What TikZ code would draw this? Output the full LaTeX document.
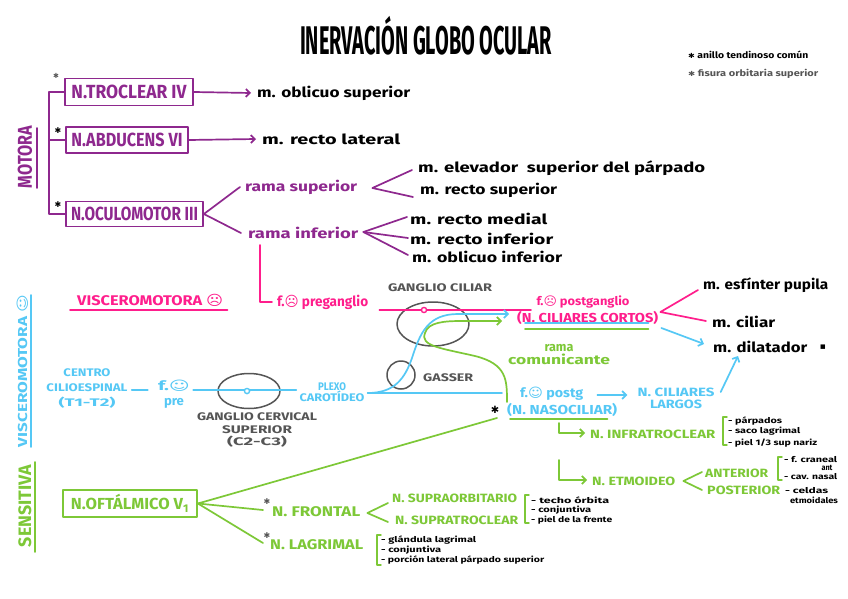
\documentclass[tikz,border=0pt]{standalone}
\usepackage{fontspec}
\setmainfont{Fira Sans}
\newfontfamily\symfont{DejaVu Sans}
\usetikzlibrary{arrows.meta,shapes.geometric}
\definecolor{cpur}{RGB}{142,40,142}
\definecolor{cpink}{RGB}{255,30,140}
\definecolor{ccyan}{RGB}{85,200,245}
\definecolor{cgreen}{RGB}{125,200,55}
\definecolor{cgray}{RGB}{85,85,85}
\newcommand\fw[2]{\resizebox{#1pt}{\height}{#2}}
\newcommand\T[3]{\fontsize{#1}{#1}\selectfont\resizebox{#2pt}{\height}{#3}}
\newcommand\sadf{{\symfont ☹}}
\newcommand\hapf{{\symfont ☺}}
\newcommand\astk[1]{{\symfont\fontsize{#1}{#1}\selectfont ✱}}
\begin{document}
\begin{tikzpicture}[x=1pt,y=-1pt,line cap=round,line join=round,
  every node/.style={inner sep=0pt,font=\bfseries}]
\tikzset{
  P/.style={draw=cpur,line width=1.7pt},
  K/.style={draw=cpink,line width=1.7pt},
  C/.style={draw=ccyan,line width=1.7pt},
  G/.style={draw=cgreen,line width=1.7pt},
  Y/.style={draw=cgray,line width=1.5pt},
  arr/.style={-{Straight Barb[length=4pt,width=8pt]}},
  box/.style={draw,line width=1.8pt,inner sep=0pt},
  tl/.style={anchor=west},
}
\fill[white] (0,0) rectangle (848,599);
\useasboundingbox (0,0) rectangle (848,599);

% title and legend
\node[anchor=base] (title) at (426,55) {\T{40}{252}{INERVACIÓN GLOBO OCULAR}};
\node[tl] (leg1) at (688,55) {\T{9}{120}{\astk{7} anillo tendinoso común}};
\node[tl,text=cgray] (leg2) at (688,74) {\T{9}{130}{\astk{7} fisura orbitaria superior}};

% side labels
\node[rotate=90,text=cpur] (mot) at (25,157) {\T{20}{62}{MOTORA}};
\draw[P] (37,128) -- (37,188);
\node[rotate=90,text=ccyan] (vmc) at (22.5,371) {\T{13}{152}{VISCEROMOTORA \hapf}};
\draw[C] (31,295) -- (31,447);
\node[rotate=90,text=cgreen] (sen) at (25,506) {\T{18}{82}{SENSITIVA}};
\draw[G] (35,462) -- (35,552);

% motor boxes
\node[box,draw=cpur,text=cpur,minimum width=128pt,minimum height=27pt] (troc) at (129,92) {\T{19}{115}{N.TROCLEAR IV}};
\node[box,draw=cpur,text=cpur,minimum width=122pt,minimum height=26pt] (abd) at (127,140) {\T{19}{111}{N.ABDUCENS VI}};
\node[box,draw=cpur,text=cpur,minimum width=137pt,minimum height=25pt] (ocu) at (134.5,214) {\T{19}{127}{N.OCULOMOTOR III}};
\node (a1) at (56,76) {\textcolor{cgray}{\astk{7}}};
\node (a2) at (58,131) {\astk{8}};
\node (a3) at (58,205) {\astk{8}};
\coordinate (brx) at (49,0);
\draw[P] (troc.west) -- (troc.west -| brx) -- (ocu.west -| brx) -- (ocu.west);
\draw[P] (abd.west -| brx) -- (abd.west);

% motor targets
\node[tl] (obl) at (257,93) {\T{14}{153}{m. oblicuo superior}};
\node[tl] (rlat) at (262,139) {\T{14}{138}{m. recto lateral}};
\node[tl,text=cpur] (rs) at (245,187) {\T{14}{112}{rama superior}};
\node[tl,text=cpur] (ri) at (248,233) {\T{14}{110}{rama inferior}};
\node[tl] (m1) at (418,168) {\T{14}{287}{m. elevador \ superior del párpado}};
\node[tl] (m2) at (420,190) {\T{14}{137}{m. recto superior}};
\node[tl] (m3) at (410,219) {\T{14}{137}{m. recto medial}};
\node[tl] (m4) at (410,239) {\T{14}{143}{m. recto inferior}};
\node[tl] (m5) at (412,257) {\T{14}{150}{m. oblicuo inferior}};
\draw[P,arr] (troc.east) -- ([shift={(-6,0)}]obl.west);
\draw[P,arr] (abd.east) -- ([shift={(-6,0)}]rlat.west);
\draw[P] (ocu.east) -- ([shift={(-5,0)}]rs.west);
\draw[P] (ocu.east) -- ([shift={(-7,0)}]ri.west);
\coordinate (fs) at ([shift={(15,1)}]rs.east);
\draw[P] ([shift={(-6,2)}]m1.west) -- (fs) -- ([shift={(-7,7)}]m2.west);
\coordinate (fi) at ([shift={(5,-1)}]ri.east);
\draw[P] ([shift={(-3,-2)}]m3.west) -- (fi);
\draw[P] ([shift={(-2,-1)}]m4.west) -- (fi);
\draw[P] ([shift={(-4,-2)}]m5.west) -- (fi);

% visceromotora parasimpatica (pink)
\node[tl,text=cpink] (vm) at (77,300) {\T{14}{146}{VISCEROMOTORA \sadf}};
\draw[K] ([shift={(-7,10)}]vm.west) -- ([shift={(4,10)}]vm.east);
\node[tl,text=cpink] (preg) at (277,302) {\T{14}{91}{f.\sadf\ preganglio}};
\draw[K] ([shift={(12,6)}]ri.south west) |- ([shift={(-5,0)}]preg.west);
\node[text=cpink] (postg) at (583,302) {\T{12}{93}{f.\sadf\ postganglio}};
\node[tl,text=cpink] (cc) at (517,318) {\T{13}{141}{(N. CILIARES CORTOS)}};
\node[tl] (esf) at (703,285) {\T{14}{125}{m. esfínter pupila}};
\node[tl] (cil) at (712,322) {\T{14}{63}{m. ciliar}};
\node[tl] (dil) at (713,347) {\T{14}{94}{m. dilatador}};
\node (sq) at (823,347) {\symfont\fontsize{9}{9}\selectfont ▪};

% ganglia (gray)
\node[draw=cgray,line width=1.5pt,ellipse,minimum width=72pt,minimum height=44pt] (gcil) at (433,324) {};
\node[text=cgray] (gcill) at (440,288) {\T{11}{104}{GANGLIO CILIAR}};
\node[draw=cgray,line width=1.5pt,circle,minimum size=28pt] (gas) at (401,375) {};
\node[tl,text=cgray] (gasl) at (423,378) {\T{11}{50}{GASSER}};
\node[draw=cgray,line width=1.5pt,ellipse,minimum width=62pt,minimum height=35pt] (gcer) at (249,391) {};
\node[text=cgray,align=center,font=\bfseries\fontsize{11}{12.5}\selectfont] (gcerl) at (257,430) {\fw{120}{GANGLIO CERVICAL}\\\fw{70}{SUPERIOR}\\\fw{60}{(C2-C3)}};

\coordinate (pk0) at ([shift={(11,8)}]preg.east);
\coordinate (pk1) at ([shift={(14,-8)}]cc.west);
\draw[K] (pk0) -- (pk1);
\draw[draw=cpink,line width=1.4pt,fill=white] ([shift={(-9,-14)}]gcil.center) circle (2.6pt);
\coordinate (fk) at ([shift={(2,-6)}]cc.east);
\draw[K] ([shift={(-5,5)}]esf.west) -- (fk) -- ([shift={(-6,-1)}]cil.west);

% simpatica (cyan)
\node[text=ccyan,align=center,font=\bfseries\fontsize{11}{15}\selectfont] (cent) at (87,388) {\fw{47}{CENTRO}\\\fw{81}{CILIOESPINAL}\\\fw{57}{(T1-T2)}};
\node[text=ccyan,align=center,font=\bfseries\fontsize{13}{15}\selectfont] (fpre) at (174,394) {\fw{32}{f.\hapf}\\\fw{20}{pre}};
\node[text=ccyan,align=center,font=\bfseries\fontsize{11}{11}\selectfont] (plexo) at (332,392) {\fw{28}{PLEXO}\\\fw{65}{CAROTÍDEO}};
\node[tl,text=ccyan] (fpost) at (520,394) {\T{13}{63}{f.\hapf\ postg}};
\node[text=ccyan,align=center,font=\bfseries\fontsize{12}{12}\selectfont] (cl) at (676,398) {\fw{77}{N. CILIARES}\\\fw{52}{LARGOS}};
\node[tl,text=ccyan] (nas) at (507,410) {\T{13}{110}{(N. NASOCILIAR)}};
\node (a4) at (495,410) {\astk{10}};

\draw[C] ([shift={(4,2)}]cent.east) -- ([shift={(-10,-4)}]fpre.west);
\draw[C] ([shift={(3,-4)}]fpre.east) -- ([shift={(-3,-2)}]plexo.west);
\draw[draw=ccyan,line width=1.4pt,fill=white] ([shift={(-2,0)}]gcer.center) circle (2.6pt);
\coordinate (cy0) at ([shift={(3,1)}]plexo.east);
\coordinate (cyend) at ([shift={(-8,-4)}]cc.west);
\draw[C] (cy0) -- ([shift={(-18,-1)}]fpost.west);
\draw[C,arr] (cy0) .. controls (395,393) and (405,378) .. (412,358) .. controls (420,333) and (428,314) .. (458,314) -- (cyend);
\draw[C,arr] ([shift={(14,1)}]fpost.east) -- ([shift={(-10,-3)}]cl.west);
\draw[C,arr] ([shift={(6,-6)}]cl.east) -- ([shift={(25,9)}]dil.west);
\draw[C,arr] ([shift={(3,10)}]cc.east) -- ([shift={(-9,-3)}]dil.west);
\draw[C] ([shift={(8,5)}]cc.west) -- ([shift={(-10,5)}]cc.east);
\draw[G] ([shift={(8,11)}]cc.west) -- ([shift={(-10,11)}]cc.east);

% sensitiva (green)
\node[text=cgreen,align=center,font=\bfseries\fontsize{13}{13}\selectfont] (rcom) at (559,355) {\fw{29}{rama}\\\fw{102}{comunicante}};
\coordinate (gend) at ([shift={(-15,3)}]cc.west);
\draw[G,arr] ([shift={(0,-8)}]nas.west) .. controls (507,380) and (507,364) .. (475,356) .. controls (440,348) and (420,346) .. (425,333) .. controls (428,322) and (445,321) .. (462,321) -- (gend);
\draw[G] ([shift={(3,9)}]nas.west) -- ([shift={(-10,9)}]nas.east);

\node[box,draw=cgreen,text=cgreen,minimum width=134pt,minimum height=27pt] (oft) at (130,503.5) {\T{16}{118}{N.OFTÁLMICO V\textsubscript{1}}};
\node[tl,text=cgreen] (fro) at (272,512) {\T{14}{88}{N. FRONTAL}};
\node[tl,text=cgreen] (lag) at (270,545) {\T{14}{93}{N. LAGRIMAL}};
\node (a5) at (267,502) {\textcolor{cgray}{\astk{8}}};
\node (a6) at (267,536) {\textcolor{cgray}{\astk{8}}};
\node[tl,text=cgreen] (sorb) at (392,498) {\T{12}{125}{N. SUPRAORBITARIO}};
\node[tl,text=cgreen] (strc) at (395,520) {\T{12}{123}{N. SUPRATROCLEAR}};
\node[tl,text=cgreen] (infra) at (590,434) {\T{12}{125}{N. INFRATROCLEAR}};
\node[tl,text=cgreen] (etm) at (592,481) {\T{12}{83}{N. ETMOIDEO}};
\node[tl,text=cgreen] (ant) at (705,473) {\T{12}{63}{ANTERIOR}};
\node[tl,text=cgreen] (post) at (707,490) {\T{12}{73}{POSTERIOR}};

\draw[G] (oft.east) -- ([shift={(-10,8)}]nas.west);
\draw[G] (oft.east) -- ([shift={(-9,-2)}]fro.west);
\draw[G] (oft.east) -- ([shift={(-7,-2)}]lag.west);
\coordinate (ff) at ([shift={(7,1)}]fro.east);
\draw[G] ([shift={(-4,5)}]sorb.west) -- (ff) -- ([shift={(-7,2)}]strc.west);
\draw[G,arr] ([shift={(52,13)}]nas.west) |- ([shift={(-5,-1)}]infra.west);
\draw[G,arr] ([shift={(-33,-21)}]etm.west) |- ([shift={(-5,-1)}]etm.west);
\coordinate (fe) at ([shift={(8,0)}]etm.east);
\draw[G] ([shift={(-3,-1)}]ant.west) -- (fe) -- ([shift={(-5,0)}]post.west);

% lists
\node[tl] (l1) at (728,421) {\T{8}{54}{- párpados}};
\node[tl] (l2) at (728,431) {\T{8}{72}{- saco lagrimal}};
\node[tl] (l3) at (728,443) {\T{8}{89}{- piel 1/3 sup nariz}};
\node[tl] (l4) at (784,460) {\T{8}{53}{- f. craneal}};
\node (l4b) at (827,468) {\T{8}{11}{ant}};
\node[tl] (l5) at (784,477) {\T{8}{53}{- cav. nasal}};
\node[tl] (l6) at (785,491) {\T{8}{43}{- celdas}};
\node (l6b) at (814,500) {\T{8}{48}{etmoidales}};
\node[tl] (l7) at (531,500) {\T{8}{78}{- techo órbita}};
\node[tl] (l8) at (531,510) {\T{8}{60}{- conjuntiva}};
\node[tl] (l9) at (531,520) {\T{8}{81}{- piel de la frente}};
\node[tl] (l10) at (381,540) {\T{8}{95}{- glándula lagrimal}};
\node[tl] (l11) at (381,550) {\T{8}{60}{- conjuntiva}};
\node[tl] (l12) at (381,560) {\T{8}{163}{- porción lateral párpado superior}};

% brackets
\draw[G,line width=1.4pt] (727,417) -- (723,417) -- (723,445) -- (727,445);
\draw[G,line width=1.4pt] (782,457) -- (778,457) -- (778,480) -- (782,480);
\draw[G,line width=1.4pt] (529,495) -- (525,495) -- (525,523) -- (529,523);
\draw[G,line width=1.4pt] (381,535) -- (377,535) -- (377,565) -- (381,565);
\end{tikzpicture}
\end{document}
